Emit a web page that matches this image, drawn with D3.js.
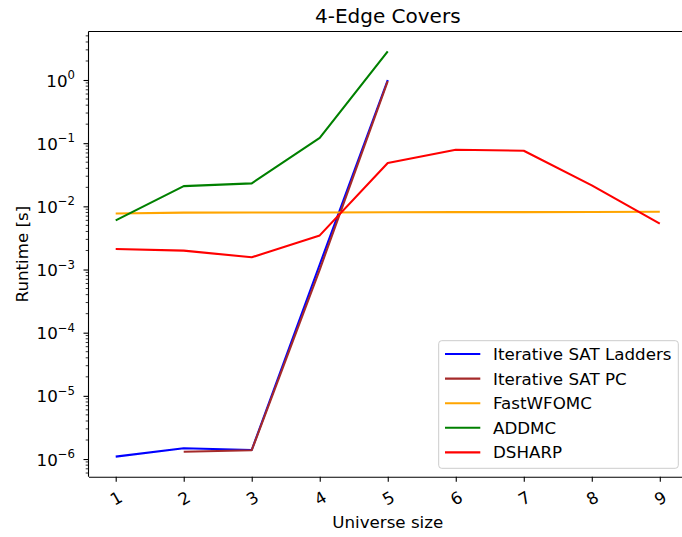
<!DOCTYPE html>
<html>
<head>
<meta charset="utf-8">
<script src="https://cdn.jsdelivr.net/npm/d3@7"></script>
<style>
  body { margin: 0; background: #fff; }
  text { font-family: "DejaVu Sans", sans-serif; fill: #000; }
</style>
</head>
<body>
<div id="chart"></div>
<script>
// 4-edge covers runtime chart

var width = 682,
	height = 537;

var margin = {left: 88.5, right: 687, top: 31.5, bottom: 476.7};
var font_size = 16.7;

// universe sizes
var sizes = [1, 2, 3, 4, 5, 6, 7, 8, 9];

// runtimes in seconds, one array per solver (null = no value)
var sat_ladders = [1.09e-6, 1.48e-6, 1.39e-6, 1.2e-3, 1.0, null, null, null, null];
var sat_pc = [null, 1.30e-6, 1.38e-6, 1.0e-3, 0.96, null, null, null, null];
var fastwfomc = [7.7e-3, 7.95e-3, 8.0e-3, 8.0e-3, 8.05e-3, 8.1e-3, 8.1e-3, 8.15e-3, 8.2e-3];
var addmc = [6.0e-3, 0.0209, 0.0231, 0.1216, 2.85, null, null, null, null];
var dsharp = [2.11e-3, 1.99e-3, 1.56e-3, 3.47e-3, 0.0485, 0.0787, 0.0759, 0.0215, 5.32e-3];

var series_names = ["Iterative SAT Ladders", "Iterative SAT PC", "FastWFOMC", "ADDMC", "DSHARP"];
var series_colors = ["blue", "brown", "orange", "green", "red"];
var series_values = [sat_ladders, sat_pc, fastwfomc, addmc, dsharp];

var y_ticks = [1e-6, 1e-5, 1e-4, 1e-3, 1e-2, 1e-1, 1e0];

var svg = d3.select("#chart")
	.append("svg")
	.attr("width", width)
	.attr("height", height);

var x = d3.scaleLinear()
	.domain([0.6, 9.4])
	.range([margin.left, margin.right]);

var y = d3.scaleLog()
	.domain([5.25e-7, 5.86])
	.range([margin.bottom, margin.top]);

// minor ticks for the log axis
var minor_ticks = [];
for (var e = -7; e <= 0; e++) {
	for (var m = 2; m <= 9; m++) {
		var v = m * Math.pow(10, e);
		if (v >= y.domain()[0] && v <= y.domain()[1]) minor_ticks.push(v);
	}
}

// lines
var line = d3.line()
	.defined(function(d) { return d[1] != null; })
	.x(function(d) { return x(d[0]); })
	.y(function(d) { return y(d[1]); });

svg.append("clipPath")
	.attr("id", "clip")
	.append("rect")
	.attr("x", margin.left)
	.attr("y", margin.top)
	.attr("width", margin.right - margin.left)
	.attr("height", margin.bottom - margin.top);

var plot = svg.append("g")
	.attr("clip-path", "url(#clip)");

plot.selectAll("path")
	.data(series_values)
	.enter().append("path")
	.attr("fill", "none")
	.attr("stroke", function(d, i) { return series_colors[i]; })
	.attr("stroke-width", 2.1)
	.attr("stroke-linejoin", "round")
	.attr("d", function(d) {
		return line(sizes.map(function(s, i) { return [s, d[i]]; }));
	});

// x axis
var x_axis = svg.append("g")
	.attr("transform", "translate(0," + margin.bottom + ")")
	.call(d3.axisBottom(x).tickValues(sizes).tickSize(5).tickSizeOuter(0).tickFormat(d3.format("d")));
x_axis.select(".domain").attr("stroke", "#000").attr("stroke-width", 1.1);
x_axis.selectAll(".tick line").attr("stroke", "#000").attr("stroke-width", 1.1);
x_axis.selectAll(".tick text")
	.attr("font-size", font_size)
	.attr("text-anchor", "middle")
	.attr("dy", null)
	.attr("y", 0)
	.attr("transform", "translate(0,21.5) rotate(-30)")
	.attr("dominant-baseline", "central");

// y axis
var y_axis = svg.append("g")
	.attr("transform", "translate(" + margin.left + ",0)")
	.call(d3.axisLeft(y).tickValues(y_ticks).tickSize(5).tickSizeOuter(0).tickFormat(""));
y_axis.select(".domain").remove();
y_axis.selectAll(".tick line").attr("stroke", "#000").attr("stroke-width", 1.1);

y_axis.selectAll(".minor")
	.data(minor_ticks)
	.enter().append("line")
	.attr("class", "minor")
	.attr("x1", -2.8)
	.attr("x2", 0)
	.attr("y1", function(d) { return y(d); })
	.attr("y2", function(d) { return y(d); })
	.attr("stroke", "#000")
	.attr("stroke-width", 0.8);

var y_labels = y_axis.selectAll(".ylab")
	.data(y_ticks)
	.enter().append("text")
	.attr("class", "ylab")
	.attr("x", -13.5)
	.attr("y", function(d) { return y(d) + 6.5; })
	.attr("text-anchor", "end")
	.attr("font-size", font_size);
y_labels.append("tspan").text("10");
y_labels.append("tspan")
	.attr("dy", -7.5)
	.attr("font-size", 11.7)
	.text(function(d) {
		var p = Math.round(Math.log10(d));
		return p < 0 ? "\u2212" + (-p) : String(p);
	});

// spines
svg.append("g")
	.selectAll("line")
	.data([
		[margin.left, margin.top, margin.right, margin.top],
		[margin.left, margin.top, margin.left, margin.bottom],
		[margin.right, margin.top, margin.right, margin.bottom]
	])
	.enter().append("line")
	.attr("x1", function(d) { return d[0]; })
	.attr("y1", function(d) { return d[1]; })
	.attr("x2", function(d) { return d[2]; })
	.attr("y2", function(d) { return d[3]; })
	.attr("stroke", "#000")
	.attr("stroke-width", 1.1);

// title and axis labels
svg.append("text")
	.attr("x", (margin.left + margin.right) / 2)
	.attr("y", 23)
	.attr("text-anchor", "middle")
	.attr("font-size", 20)
	.text("4-Edge Covers");

svg.append("text")
	.attr("x", (margin.left + margin.right) / 2)
	.attr("y", 528)
	.attr("text-anchor", "middle")
	.attr("font-size", font_size)
	.text("Universe size");

svg.append("text")
	.attr("transform", "translate(28," + ((margin.top + margin.bottom) / 2) + ") rotate(-90)")
	.attr("text-anchor", "middle")
	.attr("font-size", font_size)
	.text("Runtime [s]");

// legend
var legend = svg.append("g");
legend.append("rect")
	.attr("x", 438.7)
	.attr("y", 340.7)
	.attr("width", 239.6)
	.attr("height", 127.6)
	.attr("rx", 3)
	.attr("fill", "#fff")
	.attr("fill-opacity", 0.8)
	.attr("stroke", "#ccc")
	.attr("stroke-width", 1);

var entries = legend.selectAll(".entry")
	.data(series_names)
	.enter().append("g")
	.attr("class", "entry")
	.attr("transform", function(d, i) { return "translate(0," + (354 + i * 24.6) + ")"; });
entries.append("line")
	.attr("x1", 445)
	.attr("x2", 480.3)
	.attr("stroke", function(d, i) { return series_colors[i]; })
	.attr("stroke-width", 2.1);
entries.append("text")
	.attr("x", 493)
	.attr("y", 6)
	.attr("font-size", font_size)
	.text(function(d) { return d; });
</script>
</body>
</html>
